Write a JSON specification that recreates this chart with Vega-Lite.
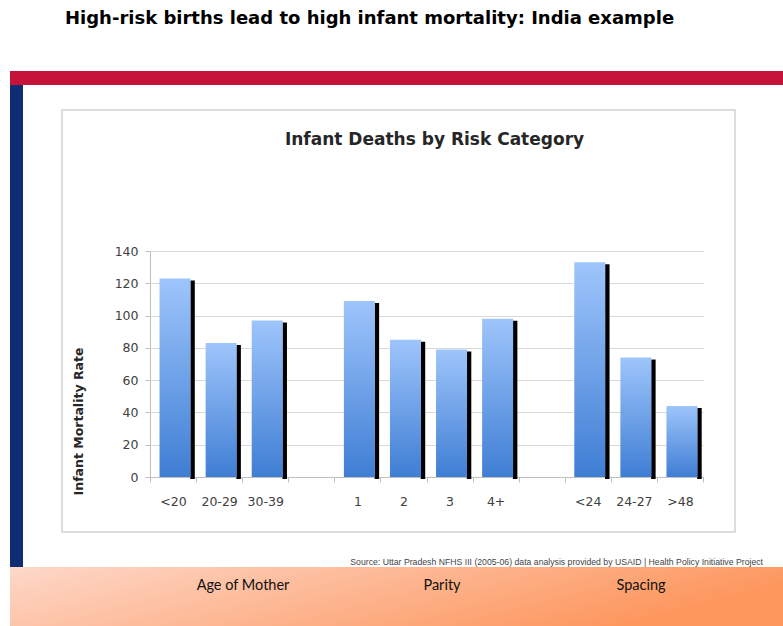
{
  "$schema": "https://vega.github.io/schema/vega-lite/v6.json",
  "background": "white",
  "padding": {"left": 10, "top": 10, "right": 0, "bottom": 0},
  "title": {
    "text": "High-risk births lead to high infant mortality: India example",
    "anchor": "start",
    "dx": 55,
    "font": "DejaVu Sans",
    "fontSize": 18,
    "fontWeight": "bold",
    "color": "#000000",
    "offset": 43,
    "frame": "bounds"
  },
  "config": {"view": {"stroke": null}},
  "spacing": 0,
  "vconcat": [
    {
      "width": 773,
      "height": 14,
      "view": {"fill": "#C5133A", "stroke": null},
      "data": {"values": []},
      "mark": "rect",
      "encoding": {}
    },
    {
      "spacing": 39,
      "bounds": "flush",
      "hconcat": [
        {
          "width": 13,
          "height": 482,
          "view": {"fill": "#0E2D73", "stroke": null},
          "title": {
            "text": "Source: Uttar Pradesh NFHS III (2005-06) data analysis provided by USAID | Health Policy Initiative Project",
            "orient": "bottom",
            "anchor": "start",
            "align": "right",
            "frame": "group",
            "dx": 753,
            "offset": -9,
            "font": "Liberation Sans",
            "fontSize": 8.7,
            "fontWeight": "normal",
            "color": "#444444"
          },
          "data": {"values": []},
          "mark": "rect",
          "encoding": {}
        },
        {
          "spacing": 0,
          "bounds": "flush",
          "vconcat": [
            {
              "width": 673,
              "height": 25,
              "data": {"values": []},
              "mark": "rect",
              "encoding": {}
            },
            {
              "width": 673,
              "height": 422,
              "view": {"fill": "white", "stroke": "#D2D2D2", "strokeWidth": 1.5},
              "title": {
                "text": "Infant Deaths by Risk Category",
                "frame": "group",
                "anchor": "middle",
                "dx": 36,
                "offset": -39,
                "font": "DejaVu Sans",
                "fontSize": 17,
                "fontWeight": "bold",
                "color": "#262626"
              },
              "data": {
                "values": [
                  {"category": "<20", "group": "Age of Mother", "rate": 123},
                  {"category": "20-29", "group": "Age of Mother", "rate": 83},
                  {"category": "30-39", "group": "Age of Mother", "rate": 97},
                  {"category": "1", "group": "Parity", "rate": 109},
                  {"category": "2", "group": "Parity", "rate": 85},
                  {"category": "3", "group": "Parity", "rate": 79},
                  {"category": "4+", "group": "Parity", "rate": 98},
                  {"category": "<24", "group": "Spacing", "rate": 133},
                  {"category": "24-27", "group": "Spacing", "rate": 74},
                  {"category": ">48", "group": "Spacing", "rate": 44}
                ]
              },
              "encoding": {
                "x": {
                  "field": "category",
                  "type": "nominal",
                  "sort": null,
                  "scale": {
                    "domain": ["<20", "20-29", "30-39", " ", "1", "2", "3", "4+", "  ", "<24", "24-27", ">48"],
                    "range": [88, 641],
                    "paddingInner": 0,
                    "paddingOuter": 0
                  },
                  "axis": {
                    "title": null,
                    "offset": -55,
                    "tickBand": "extent",
                    "tickSize": 5,
                    "domainColor": "#BFBFBF",
                    "tickColor": "#BFBFBF",
                    "labelAngle": 0,
                    "labelFont": "DejaVu Sans",
                    "labelFontSize": 12.5,
                    "labelColor": "#404040",
                    "labelPadding": 13,
                    "grid": false
                  }
                },
                "y": {
                  "field": "rate",
                  "type": "quantitative",
                  "scale": {"domain": [0, 140], "range": [367, 141], "nice": false},
                  "axis": {
                    "values": [0, 20, 40, 60, 80, 100, 120, 140],
                    "offset": -88,
                    "grid": true,
                    "gridColor": "#D9D9D9",
                    "domainColor": "#BFBFBF",
                    "tickColor": "#BFBFBF",
                    "tickSize": 5,
                    "labelPadding": 7,
                    "labelFont": "DejaVu Sans",
                    "labelFontSize": 12.5,
                    "labelColor": "#404040",
                    "title": "Infant Mortality Rate",
                    "titleFont": "DejaVu Sans",
                    "titleFontSize": 12.5,
                    "titleFontWeight": "bold",
                    "titleColor": "#262626",
                    "titleAngle": -90,
                    "titleX": -72,
                    "titleY": 311,
                    "titleAlign": "center",
                    "titleBaseline": "middle"
                  }
                }
              },
              "layer": [
                {
                  "mark": {"type": "bar", "width": 4.5, "xOffset": 19.5, "yOffset": 2, "color": "#000000"}
                },
                {
                  "mark": {
                    "type": "bar",
                    "width": 31,
                    "xOffset": 2,
                    "color": {
                      "gradient": "linear",
                      "x1": 0, "y1": 0, "x2": 0, "y2": 1,
                      "stops": [
                        {"offset": 0, "color": "#9EC5FB"},
                        {"offset": 1, "color": "#3F7ED4"}
                      ]
                    }
                  }
                }
              ]
            }
          ]
        }
      ]
    },
    {
      "width": 773,
      "height": 59,
      "view": {
        "stroke": null,
        "fill": {
          "gradient": "linear",
          "x1": 0, "y1": 0, "x2": 1, "y2": 0.3,
          "stops": [
            {"offset": 0, "color": "#FDD8C9"},
            {"offset": 1, "color": "#FD975E"}
          ]
        }
      },
      "data": {
        "values": [
          {"group": "Age of Mother"},
          {"group": "Parity"},
          {"group": "Spacing"}
        ]
      },
      "mark": {"type": "text", "font": "Lato", "fontSize": 14.5, "color": "#111111", "baseline": "middle", "dy": -11},
      "encoding": {
        "x": {
          "field": "group",
          "type": "nominal",
          "sort": null,
          "scale": {"range": [133.5, 730.5], "paddingInner": 0, "paddingOuter": 0},
          "axis": null
        },
        "text": {"field": "group"}
      }
    }
  ]
}
